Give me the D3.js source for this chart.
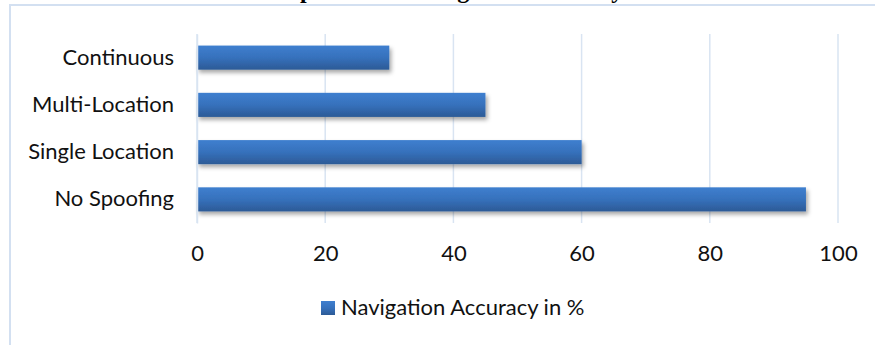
<!DOCTYPE html>
<html>
<head>
<meta charset="utf-8">
<script src="https://cdn.jsdelivr.net/npm/d3@7"></script>
<style>
  html, body { margin: 0; padding: 0; background: #fff; }
  svg { display: block; }
</style>
</head>
<body>
<svg id="chart" width="875" height="345"></svg>
<script>
const titleText = "Comparison of Navigation Accuracy";
const categories = ["Continuous", "Multi-Location", "Single Location", "No Spoofing"];
const values = [30, 45, 60, 95];
const tickValues = [0, 20, 40, 60, 80, 100];
const seriesName = "Navigation Accuracy in %";

const svg = d3.select("#chart");
const labelFont = "Lato, 'Open Sans', sans-serif";

const defs = svg.append("defs");
const grad = defs.append("linearGradient").attr("id", "barGrad")
  .attr("x1", 0).attr("y1", 0).attr("x2", 0).attr("y2", 1);
grad.append("stop").attr("offset", "0%").attr("stop-color", "#3f7fcf");
grad.append("stop").attr("offset", "50%").attr("stop-color", "#3671bc");
grad.append("stop").attr("offset", "100%").attr("stop-color", "#2c5a96");
const shadow = defs.append("filter").attr("id", "shadow")
  .attr("x", "-10%").attr("y", "-30%").attr("width", "130%").attr("height", "180%");
shadow.append("feDropShadow").attr("dx", 2).attr("dy", 3).attr("stdDeviation", 2)
  .attr("flood-color", "#000").attr("flood-opacity", 0.35);

// outer chart border (partially visible)
svg.append("path")
  .attr("d", "M10,345 L10,5 L875,5")
  .attr("fill", "none").attr("stroke", "#d3e0f1").attr("stroke-width", 2);

// title (cut off at top, as in the reference)
svg.append("text")
  .attr("x", 437).attr("y", -2)
  .attr("text-anchor", "middle")
  .attr("font-family", "'Liberation Serif', 'Times New Roman', serif")
  .attr("font-weight", "bold")
  .attr("font-size", 24)
  .text(titleText);

const x = d3.scaleLinear().domain([0, 100]).range([197, 838]);
const y = d3.scaleBand().domain(categories).range([34, 223]).paddingInner(0.49).paddingOuter(0.245);

// gridlines
svg.append("g").selectAll("line").data(tickValues).join("line")
  .attr("x1", d => x(d)).attr("x2", d => x(d))
  .attr("y1", 34).attr("y2", 223)
  .attr("stroke", "#d9e4f2").attr("stroke-width", 1.5);

// bars
svg.append("g").selectAll("rect").data(values).join("rect")
  .attr("x", x(0))
  .attr("y", (d, i) => y(categories[i]))
  .attr("width", d => x(d) - x(0))
  .attr("height", y.bandwidth())
  .attr("fill", "url(#barGrad)")
  .attr("filter", "url(#shadow)");

// category axis
const yAxis = svg.append("g").attr("transform", `translate(${x(0)},0)`)
  .call(d3.axisLeft(y).tickSize(0).tickPadding(23));
yAxis.select(".domain").attr("stroke", "#d9e4f2").attr("stroke-width", 1.5);
yAxis.selectAll("text").attr("font-family", labelFont).attr("font-size", 22).attr("fill", "#111");

// value axis
const xAxis = svg.append("g").attr("transform", `translate(0,223)`)
  .call(d3.axisBottom(x).tickValues(tickValues).tickSize(0).tickPadding(22));
xAxis.select(".domain").remove();
xAxis.selectAll("text").attr("font-family", labelFont).attr("font-size", 22).attr("fill", "#111");

// legend
const legend = svg.append("g").attr("transform", "translate(321,301)");
legend.append("rect").attr("width", 14).attr("height", 14).attr("fill", "url(#barGrad)");
legend.append("text").attr("x", 20).attr("y", 14)
  .attr("font-family", labelFont).attr("font-size", 22).attr("fill", "#111")
  .text(seriesName);
</script>
</body>
</html>
